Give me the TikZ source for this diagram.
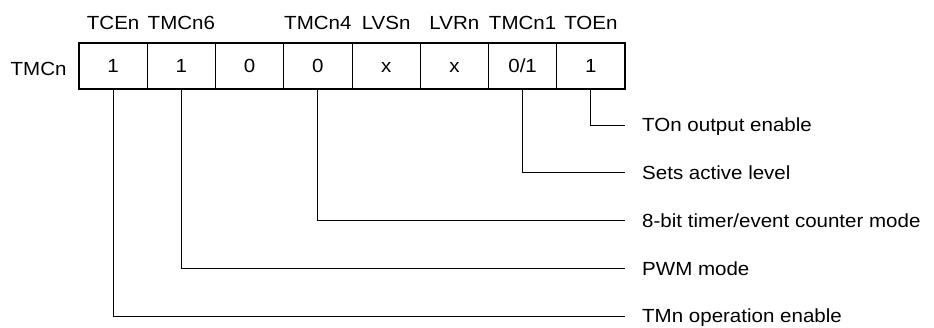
\documentclass[tikz,border=0pt]{standalone}
\usepackage{fontspec}
\setmainfont{Liberation Sans}[FakeStretch=1.08]
\begin{document}
\begin{tikzpicture}[x=1pt,y=-1pt,
  txt/.style={inner sep=0pt,font=\fontsize{19pt}{22pt}\selectfont,text height=13.6pt,text depth=0pt},
  cell/.style={draw=black,line width=0.9pt,minimum width=68.25pt,minimum height=45pt,inner sep=0pt,font=\fontsize{19pt}{22pt}\selectfont,text height=13.6pt,text depth=0pt},
  conn/.style={draw=black,line width=1pt}]
\useasboundingbox (0,0) rectangle (934,327);
% register cells
\foreach \i/\v in {1/1,2/1,3/0,4/0,5/x,6/x,7/0\slash 1,8/1}{
  \node[cell] (c\i) at ({79+68.25*(\i-0.5)},65.8) {\v};
}
\draw[line width=2pt] (c1.north west) rectangle (c8.south east);
% side label
\node[txt,anchor=south east] (reg) at (66.7,75.5) {TMCn};
% bit names
\node[txt,anchor=south] (n1) at ({79+68.25*0.5},30) {TCEn};
\node[txt,anchor=south] (n2) at ({79+68.25*1.5},30) {TMCn6};
\node[txt,anchor=south] (n4) at ({79+68.25*3.5},30) {TMCn4};
\node[txt,anchor=south] (n5) at ({79+68.25*4.5},30) {LVSn};
\node[txt,anchor=south] (n6) at ({79+68.25*5.5},30) {LVRn};
\node[txt,anchor=south] (n7) at ({79+68.25*6.5},30) {TMCn1};
\node[txt,anchor=south] (n8) at ({79+68.25*7.5},30) {TOEn};
% descriptions
\node[txt,anchor=west] (d8) at (642,125) {TOn output enable};
\node[txt,anchor=west] (d7) at (642,172.75) {Sets active level};
\node[txt,anchor=west] (d4) at (642,220.5) {8-bit timer/event counter mode};
\node[txt,anchor=west] (d2) at (642,268.25) {PWM mode};
\node[txt,anchor=west] (d1) at (642,316) {TMn operation enable};
% connectors
\draw[conn] (c8.south) |- ([xshift=-17pt]d8.west);
\draw[conn] (c7.south) |- ([xshift=-17pt]d7.west);
\draw[conn] (c4.south) |- ([xshift=-17pt]d4.west);
\draw[conn] (c2.south) |- ([xshift=-17pt]d2.west);
\draw[conn] (c1.south) |- ([xshift=-17pt]d1.west);
\end{tikzpicture}
\end{document}
